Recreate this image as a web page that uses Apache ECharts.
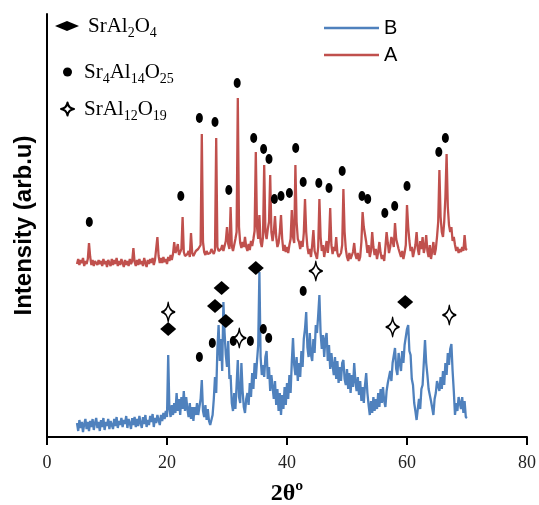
<!DOCTYPE html>
<html>
<head>
<meta charset="utf-8">
<script src="https://cdn.jsdelivr.net/npm/echarts@6/dist/echarts.min.js"></script>
<style>
  html, body { margin: 0; padding: 0; background: #fff; }
  #chart { width: 539px; height: 505px; }
</style>
</head>
<body>
<div id="chart"></div>
<script>
// XRD patterns, 2θ from 5° to 70°, sampled every 0.2°
// intensities are arbitrary units read off the picture
const twoThetaStart = 5;
const twoThetaStep = 0.2;

// ----- Pattern A (red) -----
const intensityA = [
  173,178,172,177,174,179,171,176,173,178,   // 5.0
  194,180,172,177,171,176,178,172,177,173,   // 7.0
  176,171,178,173,176,170,177,174,171,178,   // 9.0
  172,177,173,179,171,176,172,178,174,170,   // 11.0
  177,172,176,171,178,173,176,189,175,171,   // 13.0
  177,172,178,173,176,171,179,174,170,177,   // 15.0
  173,178,174,179,172,177,175,200,181,174,   // 17.0
  179,174,180,175,178,173,180,176,182,177,   // 19.0
  183,195,184,187,193,182,184,188,220,185,   // 21.0
  181,179,183,186,180,204,184,181,183,186,   // 23.0
  184,188,190,192,303,195,185,182,186,183,   // 25.0
  181,184,188,186,183,187,299,190,186,184,   // 27.0
  188,192,186,191,196,210,193,188,230,191,   // 29.0
  186,192,198,205,339,210,194,189,195,190,   // 31.0
  200,190,186,193,187,196,191,198,206,285,   // 33.0
  210,198,222,195,190,200,272,205,198,208,   // 35.0
  215,262,205,196,205,221,200,190,194,205,   // 37.0
  222,198,186,192,185,190,184,192,198,227,   // 39.0
  200,194,272,215,198,195,188,196,190,204,   // 41.0
  238,205,190,183,188,180,192,207,186,182,   // 43.0
  178,190,238,200,186,192,180,188,196,184,   // 45.0
  196,229,192,183,190,186,200,184,180,178,   // 47.0
  184,192,248,205,188,180,176,184,178,176,   // 49.0
  185,194,182,178,184,176,180,195,225,210,   // 51.0
  212,195,184,192,180,186,205,190,182,188,   // 53.0
  178,185,195,184,178,182,176,190,205,194,   // 55.0
  184,190,200,196,190,214,198,200,188,184,   // 57.0
  180,186,178,184,192,232,210,196,186,190,   // 59.0
  180,186,192,205,188,182,196,188,200,184,   // 61.0
  190,202,186,180,192,178,186,195,182,188,   // 63.0
  200,215,267,220,205,200,215,240,283,230,   // 65.0
  212,205,210,196,200,192,186,190,184,188,   // 67.0
  185,190,186,202,188,187                    // 69.0
];

// ----- Pattern B (blue) -----
const intensityB = [
  14,6,17,9,15,5,13,18,8,15,                 // 5.0
  6,16,10,18,7,14,19,9,15,6,                 // 7.0
  17,10,19,7,15,11,18,8,16,12,               // 9.0
  8,18,11,20,9,16,12,19,10,17,               // 11.0
  13,21,9,18,14,8,19,12,20,10,               // 13.0
  18,11,21,14,9,20,13,22,10,17,              // 15.0
  12,21,15,23,10,19,14,22,17,12,             // 17.0
  22,16,24,18,26,20,82,28,20,32,             // 19.0
  22,34,24,44,26,38,22,40,28,46,             // 21.0
  26,40,28,20,34,18,30,16,30,22,             // 23.0
  34,22,30,38,57,26,20,32,17,28,             // 25.0
  16,12,10,22,38,60,44,88,112,76,            // 27.0
  98,66,135,104,82,70,96,58,62,34,           // 29.0
  26,44,28,52,77,40,34,74,46,30,             // 31.0
  24,38,44,32,54,40,64,48,74,58,             // 33.0
  76,92,165,80,62,72,60,80,86,58,            // 35.0
  70,46,62,50,38,56,32,48,26,44,             // 37.0
  22,42,28,50,32,54,38,62,44,75,             // 39.0
  99,72,62,80,56,74,60,86,70,98,             // 41.0
  108,125,90,80,104,82,76,98,84,112,         // 43.0
  104,122,142,104,88,102,80,98,104,76,       // 45.0
  92,68,84,72,62,80,58,76,54,70,             // 47.0
  56,74,77,58,52,68,48,64,44,62,             // 49.0
  50,74,56,46,60,42,56,36,50,34,             // 51.0
  52,64,44,32,22,36,24,40,26,38,             // 53.0
  28,44,30,48,34,50,36,30,46,54,             // 55.0
  52,66,56,74,72,89,68,62,84,74,             // 57.0
  66,86,74,92,90,108,112,86,82,58,           // 59.0
  52,34,26,17,28,38,28,48,52,74,             // 61.0
  97,74,62,48,48,36,34,22,38,44,             // 63.0
  56,58,46,60,48,66,52,74,62,84,             // 65.0
  72,88,93,66,46,22,34,26,40,40,             // 67.0
  28,40,24,36,20,19                          // 69.0
];

// ----- Phase markers [2θ, height] -----
const markSrAl2O4 = [
  [20.2, 108], [28.0, 131], [29.1, 149], [29.8, 116], [34.8, 169], [59.7, 135]
];
const markSr4Al14O25 = [
  // over pattern A
  [7.05, 215], [22.3, 241], [25.4, 319], [28.0, 315], [30.3, 247], [31.7, 354],
  [34.45, 299], [36.1, 288], [37.0, 278], [37.9, 238], [39.0, 241], [40.4, 244],
  [41.45, 289], [42.7, 255], [45.3, 254], [47.0, 249], [49.2, 266], [52.5, 241],
  [53.45, 238], [56.3, 224], [57.95, 231], [60.0, 251], [65.3, 285], [66.4, 299],
  // over pattern B
  [25.4, 80], [27.55, 94], [31.05, 96], [33.9, 96], [36.05, 108], [36.95, 99], [42.7, 146]
];
const markSrAl12O19 = [
  [20.2, 125], [32.05, 99], [44.8, 166], [57.6, 110], [67.05, 122]
];

const phaseNames = ['SrAl2O4', 'Sr4Al14O25', 'SrAl12O19'];
const phaseLabels = {
  'SrAl2O4': 'SrAl{s|2}O{s|4}',
  'Sr4Al14O25': 'Sr{s|4}Al{s|14}O{s|25}',
  'SrAl12O19': 'SrAl{s|12}O{s|19}'
};

// ----- Helpers -----
const twoTheta = intensityA.map((_, i) => +(twoThetaStart + i * twoThetaStep).toFixed(1));
const toPairs = vals => vals.map((v, i) => [twoTheta[i], v]);

const DOT = 'path://M0,-5 A5,5 0 1 1 0,5 A5,5 0 1 1 0,-5 Z';
const STAR = 'path://M0,-10 Q1.3,-1.3 10,0 Q1.3,1.3 0,10 Q-1.3,1.3 -10,0 Q-1.3,-1.3 0,-10 Z';
const DIAMOND_FLAT = 'path://M0,0 L12,-5 L24,0 L12,5 Z';

const serif = 'Liberation Serif';
const sans = 'Liberation Sans';

function phaseLegend(name, icon, left, top, w, h, padLeft) {
  return {
    data: [{ name, icon }],
    orient: 'vertical',
    left, top,
    padding: 0,
    itemWidth: w,
    itemHeight: h,
    selectedMode: false,
    formatter: n => phaseLabels[n],
    textStyle: {
      fontFamily: serif, fontSize: 21, color: '#000', lineHeight: 28,
      padding: [0, 0, 0, padLeft],
      rich: {
        s: { fontFamily: serif, fontSize: 14, lineHeight: 14, color: '#000', verticalAlign: 'bottom' }
      }
    }
  };
}

// ----- Chart -----
const chart = echarts.init(document.getElementById('chart'));
chart.setOption({
  backgroundColor: '#fff',
  animation: false,
  // fixed plot box; don't let v6 shrink it to fit the axis names
  grid: { left: 47, right: 12, top: 14, bottom: 68, outerBoundsMode: 'none' },
  legend: [
    {
      data: [{ name: 'B', icon: 'rect' }, { name: 'A', icon: 'rect' }],
      orient: 'vertical',
      left: 324, top: 18,
      padding: 0,
      itemWidth: 55, itemHeight: 2.5, itemGap: 7,
      selectedMode: false,
      textStyle: { fontFamily: sans, fontSize: 20, color: '#000', lineHeight: 20 }
    },
    phaseLegend('SrAl2O4', DIAMOND_FLAT, 55, 12, 24, 10, 4),
    phaseLegend('Sr4Al14O25', DOT, 63, 58, 9, 10, 7),
    phaseLegend('SrAl12O19', STAR, 60, 95, 13, 14, 5)
  ],
  xAxis: {
    type: 'value',
    min: 0, max: 80, interval: 20,
    name: '2θº',
    nameLocation: 'middle',
    nameGap: 45,
    nameTextStyle: { fontFamily: serif, fontWeight: 'bold', fontSize: 24, color: '#000' },
    axisLine: { lineStyle: { color: '#000', width: 2 } },
    axisTick: { show: true, length: 8, lineStyle: { color: '#000', width: 2 } },
    axisLabel: { margin: 17, fontFamily: serif, fontSize: 18, color: '#222' },
    splitLine: { show: false }
  },
  yAxis: {
    type: 'value',
    min: 0, max: 423,
    name: 'Intensity (arb.u)',
    nameLocation: 'middle',
    nameGap: 11,
    nameTextStyle: { fontFamily: sans, fontWeight: 'bold', fontSize: 24, color: '#000' },
    axisLine: { show: true, lineStyle: { color: '#000', width: 2 } },
    axisTick: { show: false },
    axisLabel: { show: false },
    splitLine: { show: false }
  },
  series: [
    {
      name: 'B', type: 'line', symbol: 'none',
      data: toPairs(intensityB),
      lineStyle: { color: '#4F81BD', width: 2.3 },
      itemStyle: { color: '#4F81BD' }
    },
    {
      name: 'A', type: 'line', symbol: 'none',
      data: toPairs(intensityA),
      lineStyle: { color: '#C0504D', width: 2.3 },
      itemStyle: { color: '#C0504D' }
    },
    {
      name: phaseNames[0], type: 'scatter', z: 5,
      symbol: 'diamond', symbolSize: [16, 14],
      itemStyle: { color: '#000', opacity: 1 },
      data: markSrAl2O4
    },
    {
      name: phaseNames[1], type: 'scatter', z: 5,
      symbol: DOT, symbolSize: [7, 10],
      itemStyle: { color: '#000', opacity: 1 },
      data: markSr4Al14O25
    },
    {
      name: phaseNames[2], type: 'scatter', z: 5,
      symbol: STAR, symbolSize: [13, 19],
      itemStyle: { color: '#fff', borderColor: '#000', borderWidth: 1.5, borderJoin: 'round', opacity: 1 },
      data: markSrAl12O19
    }
  ]
});
window.addEventListener('resize', () => chart.resize());
</script>
</body>
</html>
